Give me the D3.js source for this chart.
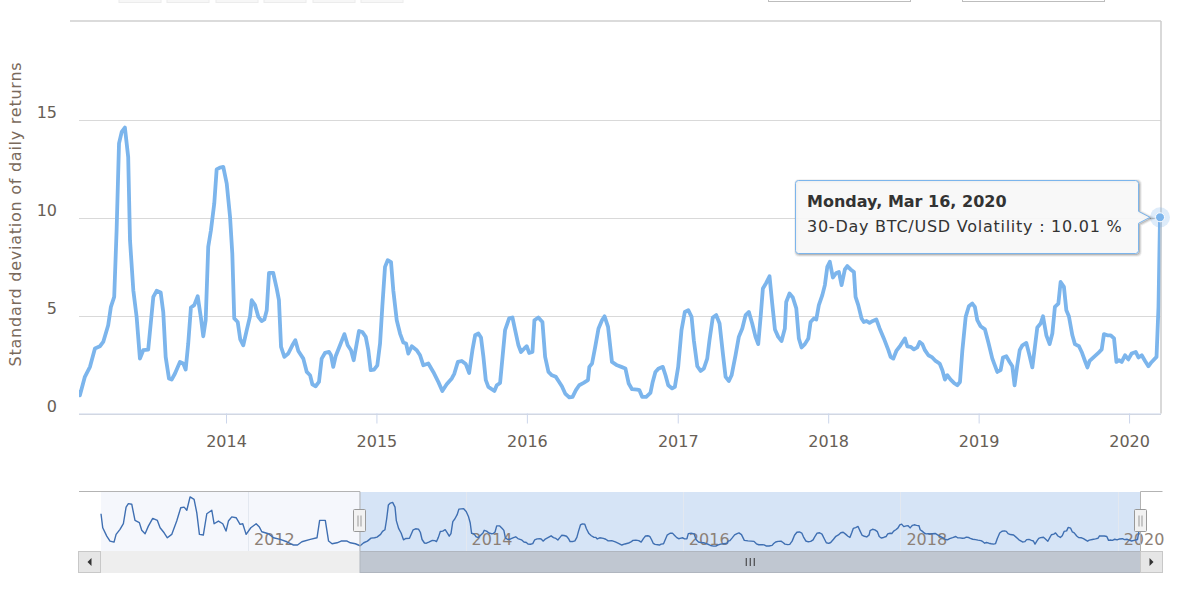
<!DOCTYPE html>
<html>
<head>
<meta charset="utf-8">
<script src="https://cdn.jsdelivr.net/npm/d3@7"></script>
<style>
html,body{margin:0;padding:0;background:#ffffff;}
svg{display:block;font-family:"DejaVu Sans","Open Sans",sans-serif;}
</style>
</head>
<body>
<svg id="chart" width="1180" height="591"></svg>
<script>
// ---------------- DATA (decimal year, 30-day volatility %) ----------------
// history only visible in the navigator (2010 - 2012)
const earlyHistory = [
  [2010.646,11.0],[2010.662,6.6],[2010.699,3.97],[2010.729,2.4],[2010.766,2.08],[2010.785,4.5],
  [2010.821,6.1],[2010.852,7.86],[2010.877,13.1],[2010.898,14.2],[2010.929,14.0],[2010.959,8.9],
  [2010.999,8.2],[2011.021,5.8],[2011.052,4.7],[2011.082,7.1],[2011.122,9.55],[2011.165,8.9],
  [2011.190,6.6],[2011.227,5.0],[2011.257,3.44],[2011.297,4.5],[2011.343,8.7],[2011.380,12.9],
  [2011.411,13.1],[2011.436,12.1],[2011.466,16.3],[2011.503,15.5],[2011.528,11.3],[2011.552,4.5],
  [2011.588,4.3],[2011.620,11.0],[2011.666,12.1],[2011.687,7.86],[2011.727,8.7],[2011.767,7.86],
  [2011.797,5.55],[2011.819,8.7],[2011.850,10.0],[2011.890,9.75],[2011.926,7.67],[2011.951,7.86],
  [2011.982,4.5],[2012.025,6.6],[2012.074,7.86],[2012.104,6.8],[2012.126,5.33],[2012.187,4.7],
  [2012.233,3.44],[2012.295,2.93],[2012.356,2.18],[2012.417,1.14],[2012.454,1.14],[2012.494,2.18],
  [2012.571,2.93],[2012.633,3.44],[2012.657,8.9],[2012.709,8.9],[2012.739,2.4],[2012.771,1.55],
  [2012.817,1.86],[2012.854,2.4],[2012.909,2.4],[2012.939,1.86],[2012.985,1.55]
];
// selected range shown in the main chart (2013 - Mar 16, 2020)
const selectedVolatility = [
  [2013.029,0.93],[2013.062,1.87],[2013.096,2.38],[2013.129,3.32],[2013.162,3.43],[2013.184,3.65],
  [2013.217,4.5],[2013.235,5.44],[2013.257,5.95],[2013.273,9.35],[2013.289,13.78],[2013.307,14.37],
  [2013.328,14.59],[2013.350,13.09],[2013.362,8.84],[2013.384,6.29],[2013.406,4.93],[2013.428,2.8],
  [2013.450,3.23],[2013.483,3.26],[2013.517,5.95],[2013.539,6.26],[2013.566,6.17],[2013.583,5.18],
  [2013.599,2.89],[2013.621,1.79],[2013.639,1.73],[2013.661,2.04],[2013.694,2.63],[2013.716,2.55],
  [2013.732,2.24],[2013.749,3.57],[2013.767,5.41],[2013.789,5.53],[2013.812,5.98],[2013.834,4.85],
  [2013.849,3.94],[2013.865,4.76],[2013.882,8.5],[2013.900,9.35],[2013.922,10.71],[2013.938,12.45],
  [2013.960,12.55],[2013.982,12.58],
  [2014.005,11.73],[2014.027,10.03],[2014.042,8.16],[2014.055,4.85],[2014.078,4.67],[2014.095,3.78],
  [2014.115,3.48],[2014.138,4.25],[2014.160,4.96],[2014.171,5.78],[2014.193,5.53],[2014.215,4.93],
  [2014.237,4.72],[2014.255,4.8],[2014.271,5.27],[2014.286,7.17],[2014.314,7.17],[2014.337,6.38],
  [2014.352,5.78],[2014.366,3.4],[2014.388,2.89],[2014.414,3.06],[2014.441,3.48],[2014.461,3.74],
  [2014.481,3.19],[2014.514,2.8],[2014.537,2.12],[2014.559,1.95],[2014.574,1.49],[2014.596,1.39],
  [2014.618,1.61],[2014.636,2.8],[2014.658,3.09],[2014.685,3.14],[2014.698,2.97],[2014.713,2.38],
  [2014.729,2.92],[2014.758,3.48],[2014.787,4.05],[2014.809,3.48],[2014.831,3.23],[2014.849,2.72],
  [2014.869,3.57],[2014.884,4.21],[2014.906,4.16],[2014.929,3.91],[2014.946,3.23],[2014.962,2.21],
  [2014.984,2.24],
  [2015.006,2.46],[2015.024,3.57],[2015.039,5.44],[2015.057,7.48],[2015.075,7.82],[2015.097,7.72],
  [2015.112,6.29],[2015.135,4.76],[2015.157,4.08],[2015.179,3.62],[2015.197,3.57],[2015.212,3.06],
  [2015.235,3.43],[2015.268,3.23],[2015.290,2.97],[2015.312,2.46],[2015.345,2.55],[2015.378,2.12],
  [2015.412,1.6],[2015.438,1.15],[2015.467,1.49],[2015.501,1.79],[2015.518,2.04],[2015.541,2.63],
  [2015.567,2.68],[2015.594,2.52],[2015.616,2.07],[2015.638,3.23],[2015.656,3.99],[2015.678,4.08],
  [2015.695,3.88],[2015.711,2.89],[2015.727,1.7],[2015.744,1.36],[2015.784,1.15],[2015.800,1.44],
  [2015.822,1.56],[2015.855,4.25],[2015.882,4.85],[2015.904,4.9],[2015.922,4.25],[2015.944,3.48],
  [2015.961,3.14],[2015.983,3.32],[2015.999,3.43],
  [2016.015,3.09],[2016.037,3.14],[2016.050,4.76],[2016.076,4.9],[2016.103,4.67],[2016.121,2.89],
  [2016.143,2.12],[2016.166,1.95],[2016.192,1.87],[2016.214,1.61],[2016.232,1.39],[2016.254,1.02],
  [2016.281,0.82],[2016.303,0.85],[2016.325,1.19],[2016.347,1.44],[2016.376,1.56],[2016.405,1.7],
  [2016.414,2.38],[2016.432,2.55],[2016.453,3.4],[2016.475,4.34],[2016.498,4.76],[2016.515,4.96],
  [2016.538,4.42],[2016.564,2.63],[2016.598,2.46],[2016.626,2.38],[2016.653,2.3],[2016.675,1.53],
  [2016.697,1.24],[2016.731,1.22],[2016.746,1.19],[2016.764,0.85],[2016.791,0.85],[2016.819,1.05],
  [2016.834,1.61],[2016.852,2.12],[2016.874,2.3],[2016.901,2.38],[2016.919,1.95],[2016.937,1.44],
  [2016.963,1.28],[2016.981,1.36],
  [2017.003,2.38],[2017.025,4.25],[2017.047,5.18],[2017.070,5.27],[2017.092,4.93],[2017.107,3.74],
  [2017.130,2.41],[2017.152,2.17],[2017.174,2.3],[2017.196,2.8],[2017.211,3.74],[2017.233,4.9],
  [2017.256,5.02],[2017.278,4.59],[2017.300,3.06],[2017.318,1.87],[2017.340,1.66],[2017.358,1.95],
  [2017.384,2.97],[2017.406,3.91],[2017.429,4.34],[2017.451,5.02],[2017.473,5.18],[2017.495,4.59],
  [2017.517,3.91],[2017.535,3.54],[2017.551,4.93],[2017.566,6.38],[2017.588,6.66],[2017.610,7.0],
  [2017.628,5.61],[2017.646,4.29],[2017.668,3.91],[2017.690,3.7],[2017.712,4.34],[2017.721,5.69],
  [2017.743,6.12],[2017.765,5.92],[2017.788,5.36],[2017.805,3.83],[2017.823,3.37],[2017.845,3.54],
  [2017.868,3.83],[2017.883,4.67],[2017.905,4.85],[2017.921,4.8],[2017.938,5.53],[2017.961,6.04],
  [2017.978,6.55],[2017.994,7.48],
  [2018.011,7.74],[2018.031,6.94],[2018.054,7.17],[2018.071,7.22],[2018.089,6.55],[2018.111,7.35],
  [2018.127,7.52],[2018.149,7.35],[2018.171,7.22],[2018.182,5.95],[2018.200,5.53],[2018.222,4.85],
  [2018.237,4.67],[2018.255,4.72],[2018.275,4.62],[2018.297,4.72],[2018.320,4.8],[2018.342,4.34],
  [2018.370,3.83],[2018.400,3.23],[2018.415,2.89],[2018.433,2.8],[2018.453,3.19],[2018.481,3.48],
  [2018.510,3.83],[2018.526,3.43],[2018.548,3.4],[2018.570,3.27],[2018.592,3.37],[2018.608,3.65],
  [2018.626,3.54],[2018.643,3.23],[2018.666,2.97],[2018.692,2.86],[2018.714,2.68],[2018.741,2.55],
  [2018.759,2.21],[2018.776,1.73],[2018.792,1.95],[2018.814,1.73],[2018.836,1.56],[2018.858,1.44],
  [2018.876,1.61],[2018.892,3.23],[2018.914,4.93],[2018.935,5.47],[2018.958,5.61],[2018.975,5.44],
  [2018.991,4.76],
  [2019.013,4.45],[2019.042,4.29],[2019.064,3.65],[2019.091,2.8],[2019.124,2.12],[2019.146,2.21],
  [2019.162,2.86],[2019.184,2.92],[2019.206,2.63],[2019.224,2.41],[2019.239,1.44],[2019.257,2.46],
  [2019.273,3.23],[2019.291,3.48],[2019.317,3.6],[2019.335,3.06],[2019.357,2.35],[2019.374,3.4],
  [2019.390,4.39],[2019.412,4.59],[2019.428,4.96],[2019.450,3.99],[2019.472,3.54],[2019.490,4.08],
  [2019.507,5.44],[2019.530,5.61],[2019.545,6.71],[2019.567,6.46],[2019.583,5.27],[2019.600,4.96],
  [2019.623,3.99],[2019.640,3.54],[2019.667,3.43],[2019.685,3.14],[2019.707,2.68],[2019.723,2.35],
  [2019.738,2.68],[2019.767,2.89],[2019.796,3.09],[2019.818,3.27],[2019.833,4.05],[2019.856,3.99],
  [2019.878,3.99],[2019.900,3.83],[2019.916,2.63],[2019.933,2.72],[2019.951,2.63],[2019.973,2.97],
  [2019.995,2.76],
  [2020.017,3.06],[2020.044,3.14],[2020.062,2.86],[2020.084,2.97],[2020.106,2.68],[2020.128,2.41],
  [2020.150,2.63],[2020.182,2.89],[2020.195,5.44],[2020.205,10.01]
];
const rangeStart = 2013.023;              // left edge of the selected range
const yTicks = [0, 5, 10, 15];
const yAxisTitle = "Standard deviation of daily returns";
const seriesName = "30-Day BTC/USD Volatility";
const valueSuffix = " %";

// ---------------- HELPERS ----------------
function toDate(t){
  const y = Math.floor(t);
  const s = Date.UTC(y,0,1), e = Date.UTC(y+1,0,1);
  return new Date(s + (t - y) * (e - s));
}
const allData = earlyHistory.concat(selectedVolatility).map(d => ({date: toDate(d[0]), value: d[1]}));
const lastPoint = allData[allData.length - 1];

const svg = d3.select("#chart");
const labelColor = "#675e56";
const FONT = '"DejaVu Sans",sans-serif';

// ---------------- RANGE SELECTOR / INPUTS (cut off at top) ----------------
const btnX = [119,167,216,264,313,361];
svg.selectAll("rect.rbtn").data(btnX).join("rect")
  .attr("x", d => d).attr("y", -20).attr("width", 42).attr("height", 22.5)
  .attr("fill", "#f7f7f7").attr("stroke", "#ececec").attr("stroke-width", 1);
[[768.5,142],[962.5,142]].forEach(([x,w]) => {
  svg.append("rect").attr("x", x).attr("y", -20).attr("width", w).attr("height", 21.5)
    .attr("fill", "#ffffff").attr("stroke", "#bdbdbd").attr("stroke-width", 1);
});

// ---------------- MAIN CHART ----------------
const plot = {left: 79, right: 1161, top: 21, bottom: 413.5};
const x = d3.scaleUtc().domain([toDate(rangeStart), lastPoint.date]).range([plot.left, 1160]);
const y = d3.scaleLinear().domain([0, 20]).range([plot.bottom, plot.top + 0.5]);

// top frame line
svg.append("line").attr("x1", 70).attr("x2", plot.right).attr("y1", 21).attr("y2", 21)
  .attr("stroke", "#cfcfcf").attr("stroke-width", 1.5);

// y gridlines + labels
const yAxis = d3.axisLeft(y).tickValues(yTicks).tickSize(-(plot.right - plot.left)).tickFormat(d3.format("d"));
const gy = svg.append("g").attr("transform", `translate(${plot.left},0)`).call(yAxis);
gy.select(".domain").remove();
gy.selectAll(".tick line").attr("stroke", "#d9d9d9").attr("stroke-width", 1)
  .attr("transform", "translate(0,0.5)");
gy.selectAll(".tick text").attr("x", -22).attr("dy", "-0.15em")
  .attr("fill", labelColor).style("font-size", "16px").style("font-family", FONT);

// y title
svg.append("text").attr("transform", "translate(21,214) rotate(-90)")
  .attr("text-anchor", "middle").attr("fill", "#7a6a5c")
  .style("font-size", "16px").style("letter-spacing", "0.75px").text(yAxisTitle);

// x axis
const xAxis = d3.axisBottom(x).ticks(d3.utcYear.every(1)).tickFormat(d3.utcFormat("%Y"))
  .tickSize(10).tickSizeOuter(0).tickPadding(12);
const gx = svg.append("g").attr("transform", `translate(0,${plot.bottom})`).call(xAxis);
gx.select(".domain").attr("stroke", "#ccd6eb").attr("d", `M${plot.left},0.5H${plot.right}`);
gx.selectAll(".tick line").attr("stroke", "#ccd6eb");
gx.selectAll(".tick text").attr("fill", labelColor).style("font-size", "16px")
  .style("font-family", FONT);

// series line
svg.append("clipPath").attr("id", "plotClip").append("rect")
  .attr("x", plot.left).attr("y", plot.top - 10).attr("width", plot.right - plot.left + 1).attr("height", plot.bottom - plot.top + 12);
const line = d3.line().x(d => x(d.date)).y(d => y(d.value));
svg.append("path").datum(allData).attr("clip-path", "url(#plotClip)")
  .attr("d", line).attr("fill", "none").attr("stroke", "#7cb5ec")
  .attr("stroke-width", 3.8).attr("stroke-linejoin", "round").attr("stroke-linecap", "round");

// crosshair
const hx = x(lastPoint.date), hy = y(lastPoint.value);
svg.append("line").attr("x1", hx + 1).attr("x2", hx + 1).attr("y1", plot.top).attr("y2", plot.bottom)
  .attr("stroke", "#cccccc").attr("stroke-width", 1.5);

// hover marker
svg.append("circle").attr("cx", hx).attr("cy", hy).attr("r", 10).attr("fill", "#7cb5ec").attr("fill-opacity", 0.25);
svg.append("circle").attr("cx", hx).attr("cy", hy).attr("r", 4.5).attr("fill", "#7cb5ec")
  .attr("stroke", "#ffffff").attr("stroke-width", 1);

// tooltip
const tt = {x0: 795.5, y0: 180.5, x1: 1138.5, y1: 253.5, r: 3};
const tipPath = `M${tt.x0+tt.r},${tt.y0} H${tt.x1-tt.r} Q${tt.x1},${tt.y0} ${tt.x1},${tt.y0+tt.r}
  V${hy-6} L${hx-10},${hy} L${tt.x1},${hy+6} V${tt.y1-tt.r} Q${tt.x1},${tt.y1} ${tt.x1-tt.r},${tt.y1}
  H${tt.x0+tt.r} Q${tt.x0},${tt.y1} ${tt.x0},${tt.y1-tt.r} V${tt.y0+tt.r} Q${tt.x0},${tt.y0} ${tt.x0+tt.r},${tt.y0} Z`;
const tip = svg.append("g");
[[5,0.05],[3,0.1],[1,0.15]].forEach(([w,o]) => {
  tip.append("path").attr("d", tipPath).attr("transform", "translate(1,1)")
    .attr("fill", "none").attr("stroke", "#000").attr("stroke-opacity", o).attr("stroke-width", w);
});
tip.append("path").attr("d", tipPath).attr("fill", "rgba(247,247,247,0.9)")
  .attr("stroke", "#7cb5ec").attr("stroke-width", 1);
tip.append("text").attr("x", 807).attr("y", 207).attr("fill", "#333333")
  .style("font-size", "16px").style("font-weight", "bold")
  .text(d3.utcFormat("%A, %b %-d, %Y")(lastPoint.date));
tip.append("text").attr("x", 807).attr("y", 232).attr("fill", "#333333")
  .style("font-size", "16px").style("letter-spacing", "0.75px")
  .text(`${seriesName} : ${d3.format(".2f")(lastPoint.value)}${valueSuffix}`);

// ---------------- NAVIGATOR ----------------
const nav = {left: 101, right: 1140, top: 492, bottom: 551};
const xn = d3.scaleUtc().domain(d3.extent(allData, d => d.date)).range([nav.left, nav.right]);
const [vmin, vmax] = d3.extent(allData, d => d.value);
const pad = (vmax - vmin) * 0.1;
const yn = d3.scaleLinear().domain([vmin - pad, vmax + pad]).range([nav.bottom, nav.top]);
const selX0 = xn(toDate(rangeStart)), selX1 = xn(lastPoint.date);

// unselected area tint
svg.append("rect").attr("x", nav.left).attr("y", nav.top).attr("width", selX0 - nav.left)
  .attr("height", nav.bottom - nav.top).attr("fill", "#f5f7fc");

// mask of selected range
svg.append("rect").attr("x", selX0).attr("y", nav.top).attr("width", selX1 - selX0)
  .attr("height", nav.bottom - nav.top).attr("fill", "#d6e4f6");

// navigator grid + labels
const navTicks = xn.ticks(d3.utcYear.every(2));
svg.selectAll("line.ngrid").data(navTicks).join("line")
  .attr("x1", d => Math.round(xn(d)) + 0.5).attr("x2", d => Math.round(xn(d)) + 0.5)
  .attr("y1", nav.top).attr("y2", nav.bottom)
  .attr("stroke", "#e3e8f0").attr("stroke-width", 1);
svg.selectAll("text.nlab").data(navTicks).join("text")
  .attr("x", d => xn(d) + 6).attr("y", 545)
  .attr("fill", "#8c8076").style("font-size", "16px").style("font-family", FONT)
  .text(d3.utcFormat("%Y"));

// navigator series
const navLine = d3.line().x(d => xn(d.date)).y(d => yn(d.value));
svg.append("path").datum(allData).attr("d", navLine).attr("fill", "none")
  .attr("stroke", "#3f6fb2").attr("stroke-width", 1.4).attr("stroke-linejoin", "round");

// outline
svg.append("path")
  .attr("d", `M79,491.5 H${selX0+0.5} V551.5 H${selX1+0.5} V491.5 H1162.5`)
  .attr("fill", "none").attr("stroke", "#b3b3b3").attr("stroke-width", 1);

// ---------------- SCROLLBAR ----------------
const sb = {top: 551, h: 22};
svg.append("rect").attr("x", nav.left).attr("y", sb.top).attr("width", nav.right - nav.left + 1)
  .attr("height", sb.h).attr("fill", "#eeeeee");
svg.append("rect").attr("x", selX0 + 0.5).attr("y", sb.top + 0.5).attr("width", selX1 - selX0)
  .attr("height", sb.h - 1).attr("fill", "#c0c7d1").attr("stroke", "#b0b6bf").attr("stroke-width", 1);
const gripX = (selX0 + selX1) / 2;
[-4, 0, 4].forEach(o => {
  svg.append("line").attr("x1", gripX + o + 0.5).attr("x2", gripX + o + 0.5)
    .attr("y1", sb.top + 7).attr("y2", sb.top + 15).attr("stroke", "#333").attr("stroke-width", 1);
});
// buttons
[[78.5, -1], [1140.5, 1]].forEach(([bx, dir]) => {
  svg.append("rect").attr("x", bx).attr("y", sb.top + 0.5).attr("width", 22).attr("height", sb.h - 1)
    .attr("fill", "#e6e6e6").attr("stroke", "#c8c8c8").attr("stroke-width", 1);
  const cx = bx + 11, cy = sb.top + sb.h / 2;
  svg.append("path").attr("d", `M${cx - 2*dir},${cy - 4} L${cx + 2*dir},${cy} L${cx - 2*dir},${cy + 4} Z`)
    .attr("fill", "#333333");
});

// handles
[selX0, selX1].forEach(hxp => {
  svg.append("rect").attr("x", Math.round(hxp) - 5.5).attr("y", 509.5).attr("width", 12).attr("height", 22)
    .attr("rx", 1).attr("fill", "#f2f2f2").attr("stroke", "#999999").attr("stroke-width", 1);
  [-1.5, 1.5].forEach(o => {
    svg.append("line").attr("x1", Math.round(hxp) + o + 0.5).attr("x2", Math.round(hxp) + o + 0.5)
      .attr("y1", 515.5).attr("y2", 526.5).attr("stroke", "#999999").attr("stroke-width", 1);
  });
});
</script>
</body>
</html>
